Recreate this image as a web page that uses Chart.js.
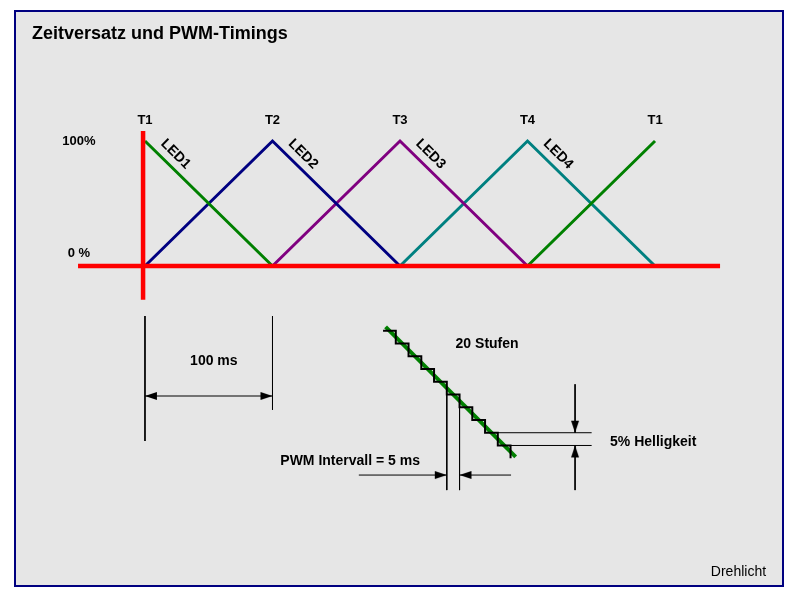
<!DOCTYPE html>
<html>
<head>
<meta charset="utf-8">
<script src="https://cdn.jsdelivr.net/npm/chart.js@4.4.1/dist/chart.umd.min.js"></script>
<style>
    html, body { margin: 0; padding: 0; background: #fff; }
    #frame {
        position: absolute; left: 14px; top: 10px; width: 770px; height: 577px;
        box-sizing: border-box; border: 2px solid #000080; background: #e6e6e6;
    }
    #timingChart { position: absolute; left: 0; top: 0; }
</style>
</head>
<body>
<div id="frame"></div>
<canvas id="timingChart" width="800" height="600"></canvas>
<script>
// Zeitpunkte (ms) und ihre Beschriftung
const times = [0, 100, 200, 300, 400];
const timeLabels = ['T1', 'T2', 'T3', 'T4', 'T1'];

// Helligkeit der LEDs in % zu den Zeitpunkten (null = Lücke)
const led1 = [100, 0, null, 0, 100];
const led2 = [0, 100, 0, null, null];
const led3 = [null, 0, 100, 0, null];
const led4 = [null, null, 0, 100, 0];
const ledNames = ['LED1', 'LED2', 'LED3', 'LED4'];
const levelLabels = ['100%', '0 %'];
const levelValues = [100, 10];

// rote Achsen
const axisTimes = [-52.5, 451];
const axisLevels = [-27, 108];

// Bemaßung 100 ms
const spanTimes = [0, 100];
const spanExtTop = -40;
const spanExtBottom = [-140, -115];
const spanArrowLevel = -104;

// Ausschnitt: 20 Stufen (ms / %)
const stepTimes = [17.5, 22.5, 27.5, 32.5, 37.5, 42.5, 47.5, 52.5, 57.5, 62.5, 67.5];
const stepLevels = [80, 75, 70, 65, 60, 55, 50, 45, 40, 35, 30];
const rampTimes = [18.5, 69.5];
const rampLevels = [81.5, 30.5];

// PWM Intervall
const pwmTimes = [42.5, 47.5];
const pwmTopLevels = [55, 50];
const pwmBottom = 17.5;
const pwmArrowLevel = 23.4;
const pwmLeftTimes = [8, 42.5];
const pwmRightTimes = [47.5, 67.7];

// 5% Helligkeit
const briLevels = [40, 35];
const briTimes = [62.5, 99.3];
const briArrowTime = 92.8;
const briTopLevels = [59, 40];
const briBottomLevels = [35, 17.5];

const FONT = '"Liberation Sans", Arial, sans-serif';

function makeArrow() {
    const c = document.createElement('canvas');
    c.width = 26;
    c.height = 10;
    const g = c.getContext('2d');
    g.fillStyle = '#000';
    g.beginPath();
    g.moveTo(13, 5);
    g.lineTo(1, 1);
    g.lineTo(1, 9);
    g.closePath();
    g.fill();
    return c;
}
const arrowImg = makeArrow();

function series(xs, ys, color, width, inset, arrows) {
    const ds = {
        data: xs.map((x, i) => ({ x: x, y: ys[i] })),
        showLine: true,
        spanGaps: false,
        borderColor: color,
        backgroundColor: color,
        borderWidth: width,
        pointRadius: 0,
        xAxisID: inset ? 'x2' : 'x',
        yAxisID: inset ? 'y2' : 'y'
    };
    if (arrows) {
        ds.pointStyle = arrows.map(a => a === null ? 'circle' : arrowImg);
        ds.pointRadius = arrows.map(a => a === null ? 0 : 5);
        ds.pointRotation = arrows.map(a => a === null ? 0 : a);
    }
    return ds;
}

const datasets = [
    // rote Achsen
    series(axisTimes, [0, 0], '#ff0000', 4.5, false),
    series([-1.5, -1.5], axisLevels, '#ff0000', 4.5, false),
    // LED-Verläufe
    series(times, led1, '#008000', 3, false),
    series(times, led2, '#000080', 3, false),
    series(times, led3, '#800080', 3, false),
    series(times, led4, '#008080', 3, false),
    // Bemaßung 100 ms
    series([spanTimes[0], spanTimes[0]], [spanExtTop, spanExtBottom[0]], '#000', 1, false),
    series([spanTimes[1], spanTimes[1]], [spanExtTop, spanExtBottom[1]], '#000', 1, false),
    series(spanTimes, [spanArrowLevel, spanArrowLevel], '#000', 1, false, [180, 0]),
    // Stufen
    Object.assign(series(stepTimes, stepLevels, '#000', 2, true), { stepped: 'before' }),
    series(rampTimes, rampLevels, '#008000', 4, true),
    // PWM Intervall
    series([pwmTimes[0], pwmTimes[0]], [pwmTopLevels[0], pwmBottom], '#000', 1, true),
    series([pwmTimes[1], pwmTimes[1]], [pwmTopLevels[1], pwmBottom], '#000', 1, true),
    series(pwmLeftTimes, [pwmArrowLevel, pwmArrowLevel], '#000', 1, true, [null, 0]),
    series(pwmRightTimes, [pwmArrowLevel, pwmArrowLevel], '#000', 1, true, [180, null]),
    // 5% Helligkeit
    series(briTimes, [briLevels[0], briLevels[0]], '#000', 1, true),
    series(briTimes, [briLevels[1], briLevels[1]], '#000', 1, true),
    series([briArrowTime, briArrowTime], briTopLevels, '#000', 1, true, [null, 90]),
    series([briArrowTime, briArrowTime], briBottomLevels, '#000', 1, true, [-90, null])
];

// Beschriftungen
const textPlugin = {
    id: 'diagramText',
    afterDatasetsDraw(chart) {
        const { ctx, scales } = chart;
        const put = (txt, x, y, inset, font, align, rot) => {
            const sx = inset ? scales.x2 : scales.x;
            const sy = inset ? scales.y2 : scales.y;
            ctx.save();
            ctx.translate(sx.getPixelForValue(x), sy.getPixelForValue(y));
            if (rot) ctx.rotate(rot * Math.PI / 180);
            ctx.font = font;
            ctx.fillStyle = '#000';
            ctx.textAlign = align || 'center';
            ctx.textBaseline = 'middle';
            ctx.fillText(txt, 0, 0);
            ctx.restore();
        };
        const bold13 = 'bold 13px ' + FONT;
        const bold14 = 'bold 14px ' + FONT;

        put('Zeitversatz und PWM-Timings', -88.6, 185.6, false, 'bold 18px ' + FONT, 'left');
        timeLabels.forEach((t, i) => put(t, times[i], 116.5, false, bold13));
        levelLabels.forEach((t, i) => put(t, -51.8, levelValues[i], false, bold13));
        ledNames.forEach((t, i) => put(t, times[i] + 24, 89.5, false, bold14, 'center', 45));
        put('100 ms', 54, -76, false, bold14);
        put('20 Stufen', 58.3, 74.8, true, bold14);
        put('PWM Intervall = 5 ms', 4.6, 29, true, bold14);
        put('5% Helligkeit', 106.5, 36.5, true, bold14, 'left');
        put('Drehlicht', 487.1, -244.8, false, '14px ' + FONT, 'right');
    }
};

new Chart(document.getElementById('timingChart'), {
    type: 'scatter',
    data: { datasets: datasets },
    options: {
        responsive: false,
        animation: false,
        events: [],
        layout: { padding: 0, autoPadding: false },
        plugins: {
            legend: { display: false },
            tooltip: { enabled: false }
        },
        scales: {
            x: { type: 'linear', display: false, min: -113.7, max: 513.7 },
            y: { type: 'linear', display: false, min: -267.2, max: 212.8 },
            x2: { type: 'linear', axis: 'x', display: false, min: -132.7, max: 181.0 },
            y2: { type: 'linear', axis: 'y', display: false, min: -25.6, max: 209.7 }
        }
    },
    plugins: [textPlugin]
});
</script>
</body>
</html>
